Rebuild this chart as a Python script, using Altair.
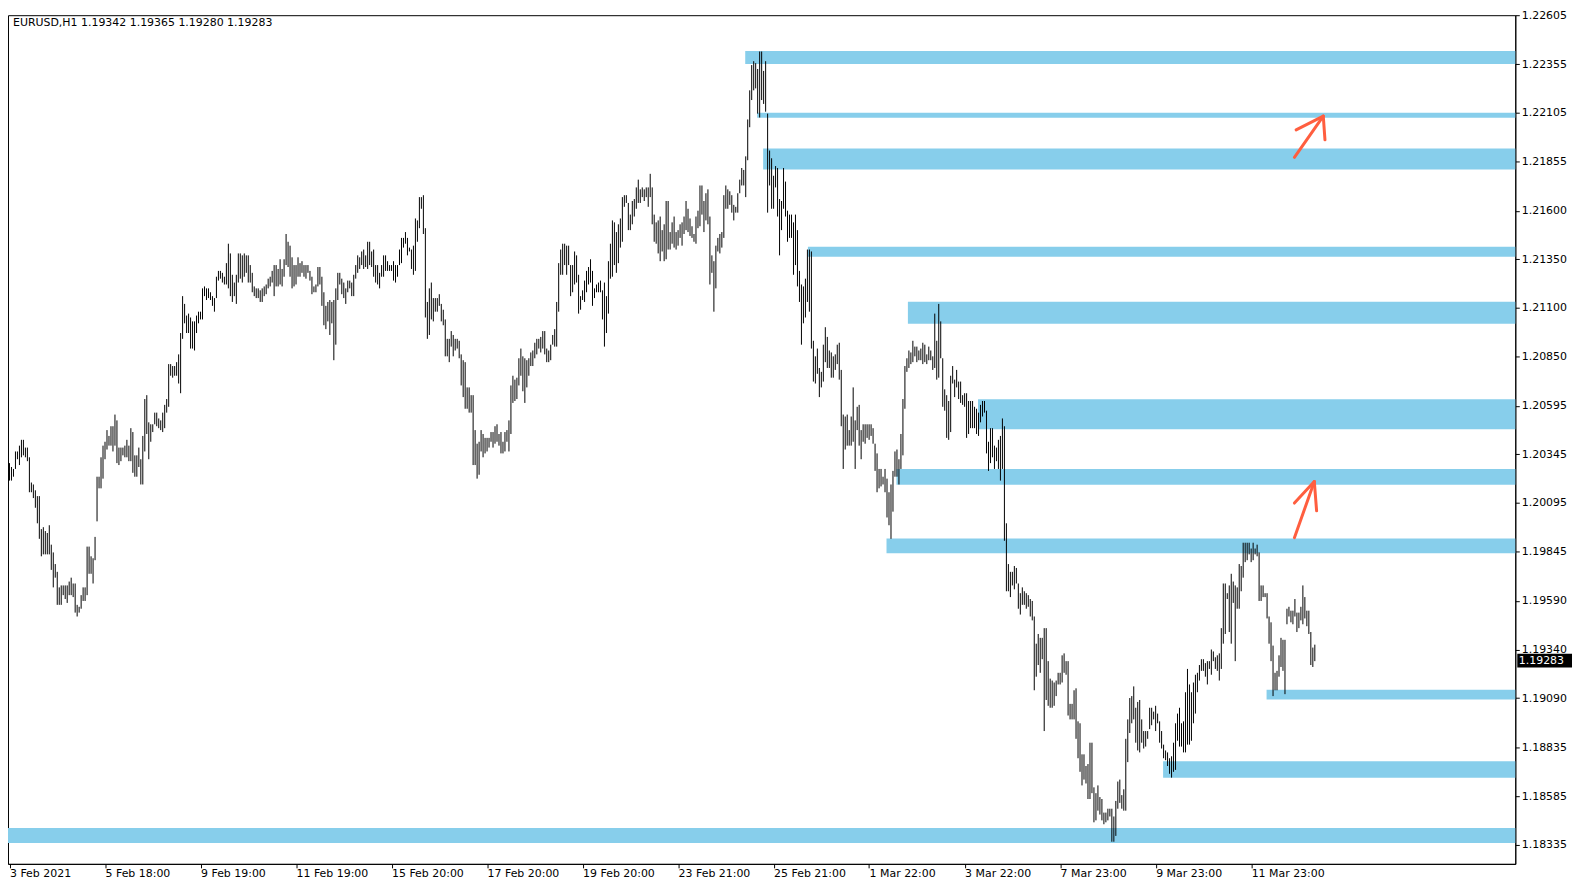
import altair as alt
import pandas as pd

# ---------------- data (prices stored as pips above BASE_PRICE) ----------------
BASE_PRICE = 1.18000

high_pips = [
    230, 228, 227, 236, 236, 239, 242, 242, 238, 238,
    233, 220, 219, 216, 213, 213, 196, 197, 195, 194,
    198, 188, 184, 178, 174, 166, 167, 167, 167, 167,
    169, 171, 168, 168, 157, 156, 162, 166, 166, 187,
    187, 182, 181, 192, 223, 223, 233, 239, 241, 247,
    244, 249, 249, 255, 252, 238, 238, 238, 239, 242,
    239, 248, 246, 234, 234, 238, 232, 244, 263, 265,
    251, 250, 250, 256, 256, 253, 252, 256, 260, 263,
    281, 281, 280, 280, 282, 286, 297, 316, 312, 306,
    307, 305, 303, 303, 306, 308, 308, 320, 321, 320,
    320, 318, 316, 315, 326, 329, 329, 328, 326, 333,
    343, 338, 327, 323, 327, 338, 338, 337, 338, 337,
    337, 332, 328, 321, 320, 320, 319, 320, 321, 322,
    325, 326, 329, 332, 332, 330, 335, 330, 335, 348,
    344, 342, 336, 332, 332, 336, 333, 334, 332, 332,
    332, 329, 326, 321, 322, 331, 331, 326, 318, 311,
    313, 314, 313, 314, 320, 328, 328, 325, 323, 320,
    324, 324, 323, 327, 332, 337, 336, 339, 340, 337,
    344, 344, 339, 340, 332, 332, 328, 332, 337, 337,
    334, 332, 332, 334, 332, 332, 340, 346, 346, 349,
    346, 341, 340, 342, 356, 355, 367, 367, 368, 351,
    313, 320, 323, 315, 315, 315, 317, 312, 309, 304,
    294, 294, 298, 296, 294, 294, 293, 286, 283, 282,
    269, 269, 265, 265, 247, 240, 241, 247, 245, 243,
    243, 243, 246, 246, 249, 250, 245, 246, 241, 246,
    247, 252, 270, 275, 273, 274, 284, 289, 285, 284,
    283, 284, 287, 288, 292, 294, 294, 295, 298, 298,
    289, 288, 291, 296, 299, 313, 333, 340, 343, 343,
    342, 342, 332, 332, 339, 337, 327, 316, 319, 324,
    329, 331, 335, 329, 320, 322, 323, 324, 319, 323,
    316, 334, 343, 355, 354, 349, 353, 356, 367, 368,
    368, 364, 358, 365, 366, 372, 376, 371, 372, 371,
    372, 372, 379, 372, 358, 354, 355, 357, 350, 353,
    365, 365, 349, 354, 357, 349, 350, 353, 354, 357,
    365, 361, 356, 352, 348, 357, 360, 373, 373, 365,
    369, 371, 357, 337, 334, 342, 346, 348, 349, 368,
    373, 371, 370, 368, 363, 362, 369, 376, 382, 381,
    388, 407, 422, 435, 437, 436, 433, 442, 442, 432,
    437, 410, 391, 387, 378, 383, 382, 366, 365, 382,
    375, 360, 358, 358, 354, 358, 350, 329, 322, 321,
    325, 340, 340, 339, 293, 285, 289, 279, 277, 291,
    300, 295, 288, 287, 285, 286, 291, 292, 278, 255,
    254, 255, 247, 254, 269, 252, 259, 260, 247, 250,
    250, 250, 250, 250, 248, 240, 235, 227, 227, 223,
    227, 222, 215, 219, 226, 236, 237, 232, 245, 263,
    280, 284, 288, 287, 293, 290, 290, 288, 289, 292,
    291, 286, 290, 288, 285, 307, 293, 312, 303, 284,
    268, 265, 262, 275, 280, 273, 278, 272, 272, 265,
    266, 266, 262, 262, 262, 259, 258, 256, 260, 262,
    262, 257, 241, 248, 248, 239, 238, 242, 244, 253,
    249, 199, 178, 174, 174, 177, 176, 168, 163, 166,
    164, 163, 162, 160, 159, 151, 137, 142, 140, 140,
    145, 145, 128, 119, 118, 117, 118, 122, 122, 131,
    132, 128, 128, 106, 106, 113, 114, 97, 96, 80,
    80, 74, 75, 86, 86, 63, 60, 64, 58, 57,
    50, 50, 52, 52, 52, 48, 56, 66, 67, 59,
    62, 88, 98, 109, 110, 115, 104, 107, 108, 98,
    92, 92, 92, 104, 104, 102, 105, 101, 97, 92,
    85, 82, 81, 78, 79, 86, 96, 101, 104, 96,
    97, 112, 124, 116, 112, 117, 121, 122, 126, 129,
    129, 127, 128, 128, 134, 133, 130, 131, 132, 145,
    168, 168, 163, 167, 173, 169, 167, 166, 178, 177,
    189, 189, 189, 189, 186, 189, 186, 188, 184, 167,
    167, 163, 163, 151, 148, 136, 122, 123, 131, 140,
    139, 139, 155, 156, 154, 154, 160, 153, 153, 156,
    167, 161, 154, 154, 143, 135, 136.5,
]

low_pips = [
    221, 221, 223, 227, 232, 229, 233, 234, 233, 231,
    215, 215, 212, 207, 199, 191, 182, 183, 183, 183,
    183, 175, 166, 171, 157, 157, 157, 162, 160, 158,
    162, 162, 161, 153, 151, 153, 155, 159, 159, 162,
    173, 173, 168, 180, 200, 217, 217, 222, 232, 237,
    239, 239, 236, 239, 230, 229, 231, 234, 233, 233,
    231, 231, 225, 223, 223, 228, 219, 219, 236, 245,
    232, 241, 246, 250, 249, 248, 247, 246, 248, 256,
    259, 275, 274, 275, 275, 271, 266, 294, 302, 297,
    297, 289, 289, 288, 297, 302, 304, 304, 316, 314,
    315, 314, 311, 308, 315, 324, 325, 323, 322, 322,
    320, 316, 313, 316, 312, 323, 325, 323, 326, 328,
    323, 323, 318, 316, 315, 315, 313, 313, 316, 317,
    320, 321, 323, 316, 321, 321, 322, 321, 326, 332,
    331, 326, 320, 321, 322, 326, 326, 328, 326, 325,
    328, 324, 317, 318, 318, 321, 322, 311, 301, 299,
    303, 296, 302, 283, 291, 314, 322, 317, 315, 312,
    318, 320, 316, 316, 325, 328, 330, 332, 330, 331,
    330, 332, 331, 326, 323, 322, 320, 326, 326, 329,
    329, 329, 329, 324, 323, 326, 332, 333, 341, 343,
    337, 339, 330, 327, 329, 344, 351, 361, 348, 305,
    294, 296, 304, 303, 308, 308, 311, 303, 301, 285,
    285, 282, 290, 285, 288, 289, 284, 270, 264, 258,
    258, 256, 256, 229, 229, 222, 224, 236, 233, 235,
    236, 238, 241, 238, 240, 241, 239, 235, 235, 236,
    241, 236, 245, 261, 262, 263, 270, 275, 267, 261,
    269, 275, 280, 280, 284, 286, 289, 287, 289, 286,
    282, 282, 283, 291, 290, 290, 308, 327, 327, 332,
    327, 332, 316, 318, 322, 323, 307, 309, 314, 313,
    318, 322, 323, 311, 315, 318, 318, 318, 304, 290,
    297, 307, 325, 326, 332, 328, 333, 341, 344, 362,
    364, 350, 350, 353, 357, 361, 364, 364, 367, 365,
    367, 362, 367, 353, 344, 343, 338, 334, 339, 334,
    335, 340, 340, 343, 341, 340, 342, 346, 342, 348,
    350, 349, 347, 346, 344, 343, 351, 352, 358, 349,
    355, 353, 322, 328, 308, 320, 339, 338, 341, 346,
    361, 361, 363, 359, 355, 359, 359, 369, 373, 373,
    367, 386, 403, 417, 422, 423, 410, 408, 417, 415,
    411, 359, 373, 361, 361, 372, 357, 337, 350, 361,
    357, 344, 346, 346, 327, 332, 321, 313, 291, 302,
    305, 313, 308, 289, 272, 271, 276, 264, 269, 272,
    282, 279, 279, 274, 274, 278, 281, 273, 249, 227,
    237, 239, 239, 239, 241, 227, 247, 239, 232, 241,
    240, 243, 242, 244, 240, 226, 215, 217, 218, 219,
    215, 202, 198, 191, 205, 223, 223, 219, 227, 234,
    258, 277, 279, 281, 282, 285, 282, 283, 283, 281,
    282, 281, 283, 283, 278, 279, 273, 274, 284, 259,
    257, 243, 242, 246, 271, 264, 269, 263, 261, 260,
    259, 243, 245, 248, 248, 248, 245, 244, 251, 254,
    256, 235, 226, 230, 233, 227, 231, 227, 221, 227,
    190, 164, 164, 161, 167, 165, 168, 155, 152, 157,
    157, 155, 156, 151, 149, 113, 120, 126, 122, 129,
    92, 108, 105, 104, 104, 105, 110, 116, 116, 117,
    122, 121, 100, 98, 98, 98, 88, 78, 71, 64,
    67, 65, 57, 57, 60, 45, 46, 51, 49, 46,
    44, 45, 46, 48, 35, 35, 38, 52, 55, 52,
    51, 51, 76, 91, 96, 98, 86, 82, 81, 86,
    83, 84, 88, 93, 95, 98, 92, 96, 86, 83,
    78, 77, 74, 70, 68, 71, 72, 87, 84, 84,
    81, 81, 85, 85, 87, 96, 101, 112, 118, 123,
    123, 120, 116, 124, 121, 128, 124, 123, 118, 124,
    137, 142, 160, 143, 137, 158, 128, 155, 155, 164,
    171, 179, 180, 183, 179, 180, 183, 182, 159, 159,
    161, 161, 150, 137, 128, 110, 113, 113, 120, 125,
    123, 111, 147, 151, 148, 147, 151, 143, 145, 149,
    147, 150, 146, 142, 126, 125, 128,
]

# time axis: one label every 48 hourly bars
tick_bars = [0, 48, 96, 144, 192, 240, 288, 336, 384, 432, 480, 528, 576, 624]
tick_labels = ["3 Feb 2021", "5 Feb 18:00", "9 Feb 19:00", "11 Feb 19:00",
               "15 Feb 20:00", "17 Feb 20:00", "19 Feb 20:00", "23 Feb 21:00",
               "25 Feb 21:00", "1 Mar 22:00", "3 Mar 22:00", "7 Mar 23:00",
               "9 Mar 23:00", "11 Mar 23:00"]

price_ticks = [1.22605, 1.22355, 1.22105, 1.21855, 1.21600, 1.21350, 1.21100,
               1.20850, 1.20595, 1.20345, 1.20095, 1.19845, 1.19590, 1.19340,
               1.19090, 1.18835, 1.18585, 1.18335]

# horizontal supply / demand zones (start bar, low price, high price)
X_MIN, X_MAX = -0.75, 756.75
zone_start = [369.75, 375.75, 378.75, 401.25, 451.5, 486.75, 445.75, 440.75,
              631.75, 579.75, X_MIN]
zone_low = [1.22355, 1.22079, 1.21812, 1.21363, 1.21018, 1.20475, 1.20188,
            1.19836, 1.19082, 1.18680, 1.18344]
zone_high = [1.22422, 1.22104, 1.21920, 1.21414, 1.21131, 1.20629, 1.20270,
             1.19912, 1.19133, 1.18765, 1.18421]

# hand-drawn arrows: three strokes each (shaft, left barb, right barb)
arrow_x1 = [645.75, 660.25, 660.25, 645.75, 655.75, 655.75]
arrow_y1 = [1.21875, 1.22087, 1.22087, 1.19916, 1.20205, 1.20205]
arrow_x2 = [660.25, 646.6, 661.1, 655.75, 645.75, 656.9]
arrow_y2 = [1.22087, 1.22016, 1.21965, 1.20205, 1.20094, 1.20054]

last_price = 1.19283
header_text = "EURUSD,H1  1.19342 1.19365 1.19280 1.19283"

# ---------------- tables ----------------
bars = pd.DataFrame({
    "bar": list(range(len(high_pips))),
    "high": [BASE_PRICE + h / 10000 for h in high_pips],
    "low": [BASE_PRICE + l / 10000 for l in low_pips],
})
zones = pd.DataFrame({"bar": zone_start, "end": [X_MAX] * len(zone_start),
                      "low": zone_low, "high": zone_high})
arrows = pd.DataFrame({"bar": arrow_x1, "low": arrow_y1, "x2": arrow_x2, "high": arrow_y2})
last = pd.DataFrame({"low": [last_price], "label": [f"{last_price:.5f}"]})
header = pd.DataFrame({"t": [header_text]})

FONT = "DejaVu Sans"
x_scale = alt.Scale(domain=[X_MIN, X_MAX], nice=False, zero=False)
y_scale = alt.Scale(domain=[1.18236, 1.22607], nice=False, zero=False)

label_expr = " : ".join(f"datum.value == {b} ? '{l}'" for b, l in zip(tick_bars, tick_labels)) + " : ''"

x_axis = alt.Axis(values=tick_bars, labelExpr=label_expr, orient="bottom", grid=False,
                  title=None, tickSize=4, labelAlign="left", labelBaseline="top",
                  labelPadding=0, labelOverlap=False, labelFlush=False,
                  labelBound=False)
y_axis = alt.Axis(values=price_ticks, format=".5f", orient="right", grid=False,
                  title=None, tickSize=4, labelAlign="left", labelBaseline="middle",
                  labelPadding=2, labelOverlap=False, labelFlush=False, labelBound=False)

X = alt.X("bar:Q", scale=x_scale, axis=x_axis)
Y = alt.Y("low:Q", scale=y_scale, axis=y_axis)

bar_layer = alt.Chart(bars).mark_rule(color="black", strokeWidth=1).encode(
    x=X, y=Y, y2="high:Q",
)

zone_layer = alt.Chart(zones).mark_rect(color="#87CEEB").encode(
    x=X, x2="end:Q", y=Y, y2="high:Q",
)

arrow_layer = alt.Chart(arrows).mark_rule(color="#FF5E3F", strokeWidth=3, strokeCap="round").encode(
    x=X, x2="x2:Q", y=Y, y2="high:Q",
)

box_layer = alt.Chart(last).mark_point(
    shape="M-1,-0.25L1,-0.25L1,0.25L-1,0.25Z", size=3025, filled=True,
    color="black", opacity=1, strokeWidth=0
).encode(
    x=alt.value(1544.5),
    y=Y,
)

box_text = alt.Chart(last).mark_text(
    align="left", baseline="middle", font=FONT, fontSize=11, color="white"
).encode(
    x=alt.value(1518.5),
    y=Y,
    text="label:N",
)

header_layer = alt.Chart(header).mark_text(
    align="left", baseline="alphabetic", font=FONT, fontSize=11, color="black"
).encode(
    x=alt.value(5),
    y=alt.value(11),
    text="t:N",
)

chart = alt.layer(
    zone_layer, bar_layer, arrow_layer, box_layer, box_text, header_layer
).properties(
    width=1515, height=853,
    autosize=alt.AutoSizeParams(type="none"),
    padding={"left": 0, "top": 5, "right": 58, "bottom": 15},
    background="white",
).configure_view(
    stroke="black", strokeWidth=1
).configure_axis(
    labelFont=FONT, labelFontSize=11, labelColor="black",
    tickColor="black", domainColor="black", domainWidth=1, tickWidth=1,
)

chart.save("out.html", embed_options={"renderer": "svg", "actions": False})
